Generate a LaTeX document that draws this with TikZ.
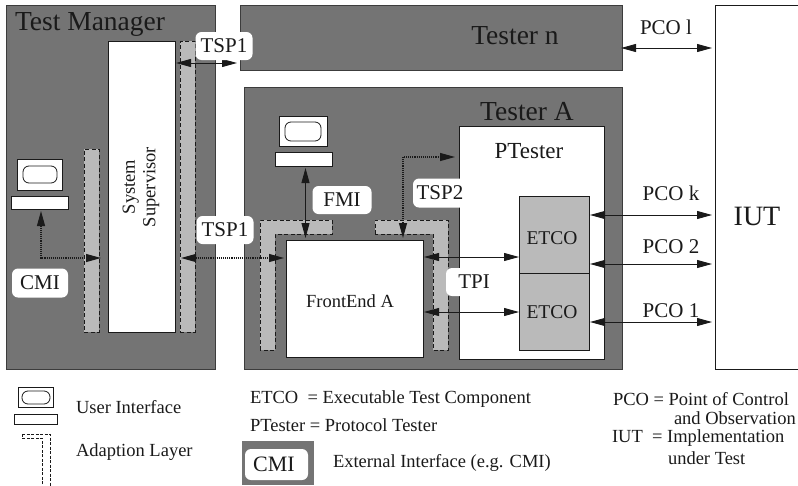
\documentclass[tikz,border=0pt]{standalone}
\usepackage{fontspec}
\setmainfont{Liberation Serif}
\usetikzlibrary{arrows.meta}
\definecolor{dark}{HTML}{747474}
\definecolor{light}{HTML}{BABABA}
\definecolor{ink}{HTML}{1A1A1A}
\newcommand{\bx}[6]{\pgfmathsetmacro{\bw}{#5-#3}\pgfmathsetmacro{\bh}{#6-#4}%
  \node[#2,anchor=north west,minimum width=\bw pt,minimum height=\bh pt] (#1) at (#3,#4) {};}
\tikzset{
  every node/.style={text=ink,inner sep=0pt,outer sep=0pt},
  region/.style={draw=ink!85,line width=0.7pt,fill=dark},
  plain/.style={draw=ink,line width=0.8pt,fill=white},
  comp/.style={draw=ink,line width=0.7pt,fill=light},
  oval/.style={draw=ink,line width=0.8pt,fill=white,rounded corners=6pt},
  adapt/.style={draw=ink,line width=0.8pt,dash pattern=on 4pt off 2.5pt,fill=light},
  blob/.style={fill=white,rounded corners=6pt,minimum height=28pt,font=\fontsize{21}{21}\selectfont},
  lab/.style={font=\fontsize{19.5}{19.5}\selectfont},
  pco/.style={font=\fontsize{21}{21}\selectfont},
  title/.style={font=\fontsize{27.5}{27.5}\selectfont},
  legend/.style={font=\fontsize{18.5}{18.5}\selectfont,anchor=west},
  twotip/.style={{Triangle[length=15pt,width=8pt]}-{Triangle[length=15pt,width=8pt]}},
  link/.style={twotip,line width=0.9pt,draw=ink},
  elbow/.style={twotip,line width=1.1pt,draw=ink,densely dotted},
}
\begin{document}
\begin{tikzpicture}[x=1pt,y=-1pt]
\useasboundingbox (0,0) rectangle (798,485);
% regions
\bx{tm}{region}{6}{5}{215}{369}
\bx{tn}{region}{240}{5}{622}{70}
\bx{ta}{region}{244}{87}{622}{369}
\bx{iut}{plain}{715}{5}{810}{369}
% test manager
\bx{ss}{plain}{108}{41}{175}{332}
\bx{adr}{adapt}{180}{41}{195}{332}
\bx{adl}{adapt}{84}{149}{99}{332}
\bx{scr1}{plain}{17}{159}{62}{190}
\bx{ov1}{oval}{23}{166}{57}{183}
\bx{kb1}{plain}{11}{196}{68}{209}
% tester A
\bx{pt}{plain}{459}{126}{604}{359}
\draw[adapt] (260,350) -- (260,220) -- (332,220) -- (332,234) -- (275,234) -- (275,350) -- cycle;
\draw[adapt] (375,234) -- (375,220) -- (448,220) -- (448,350) -- (433,350) -- (433,234) -- cycle;
\bx{fe}{plain}{286}{240}{423}{357}
\bx{e1}{comp}{519}{196}{589}{273}
\bx{e2}{comp}{519}{273}{589}{350}
\bx{scr2}{plain}{279}{116}{327}{146}
\bx{ov2}{oval}{285}{122}{321}{141}
\bx{kb2}{plain}{275}{152}{332}{166}
% free ends
\coordinate (t1a) at (176,63);
\coordinate (t1b) at (237,63);
\coordinate (t2a) at (181,258);
\coordinate (t2b) at (284,258);
\coordinate (cmiend) at (101,258);
\coordinate (cmistart) at (41,211);
\coordinate (ptin) at (455,157);
\coordinate (tspup) at (403,238);
\coordinate (fmitop) at (305.5,168);
\coordinate (fmibot) at (305.5,238);
% connectors
\draw[link] (t1a) -- (t1b);
\draw[elbow] (t2a) -- (t2b);
\draw[elbow] (cmistart) |- (cmiend);
\draw[elbow] (tspup) |- (ptin);
\draw[link] (fmitop) -- (fmibot);
\draw[link] (424,257) -- (519,257);
\draw[link] (424,312) -- (519,312);
\draw[link] (590,215) -- (712,215);
\draw[link] (590,264) -- (712,264);
\draw[link] (590,322) -- (712,322);
\draw[link] (621,48) -- (712,48);
% labels
\node[title,anchor=west] (ltm) at (15,24) {Test Manager};
\node[title] (ltn) at (515,36) {Tester n};
\node[title] (lta) at (527,112) {Tester A};
\node[font=\fontsize{23}{23}\selectfont] (lpt) at (529,151) {PTester};
\node[font=\fontsize{28}{28}\selectfont] (liut) at (757,216) {IUT};
\node[font=\fontsize{18.5}{18.5}\selectfont,rotate=90,align=center] (lss) at (141,187) {System\\[2pt]Supervisor};
\node[font=\fontsize{18.5}{18.5}\selectfont] (lfe) at (350,301) {FrontEnd A};
\node[lab] (le1) at (552,238) {ETCO};
\node[lab] (le2) at (552,312) {ETCO};
\node[pco] (p1) at (666,27) {PCO l};
\node[pco] (pk) at (671,193) {PCO k};
\node[pco] (p2) at (671,247) {PCO 2};
\node[pco] (pp1) at (671,311) {PCO 1};
\node[blob,minimum width=57pt] (b1) at (224,46) {TSP1};
\node[blob,minimum width=57pt] (b2) at (225,230) {TSP1};
\node[blob,minimum width=56pt,minimum height=29pt] (b3) at (40,283) {CMI};
\node[blob,minimum width=59pt] (b4) at (342,200) {FMI};
\node[blob,minimum width=54pt,minimum height=29pt] (b5) at (440,193) {TSP2};
\node[blob,minimum width=56pt] (b6) at (474,282) {TPI};
% legend
\bx{scr3}{plain}{18}{387}{53}{407}
\bx{ov3}{oval}{22}{391}{50}{404}
\bx{kb3}{plain}{14}{414}{57}{424}
\draw[adapt,fill=white,line width=0.8pt,dash pattern=on 3pt off 1.5pt] (22,434) -- (50,434) -- (50,486) -- (42,486) -- (42,438) -- (22,438) -- cycle;
\bx{cg}{region,draw=none}{242}{441}{314}{485}
\bx{cw}{plain,draw=none,rounded corners=6pt}{245}{449}{308}{480}
\node[font=\fontsize{22}{22}\selectfont] (lcmi) at (274,464) {CMI};
\node[legend] (l1) at (76,407) {User Interface};
\node[legend] (l2) at (76,452) {Adaption Layer};
\node[legend] (l3) at (250,399) {ETCO\ \ = Executable Test Component};
\node[legend] (l4) at (250,425) {PTester = Protocol Tester};
\node[legend] (l5) at (333,463) {External Interface (e.g. CMI)};
\node[legend] (l6) at (613,399) {PCO = Point of Control};
\node[legend] (l7) at (674,418) {and Observation};
\node[legend] (l8) at (612,438) {IUT\ \ = Implementation};
\node[legend] (l9) at (668,458) {under Test};
\end{tikzpicture}
\end{document}
